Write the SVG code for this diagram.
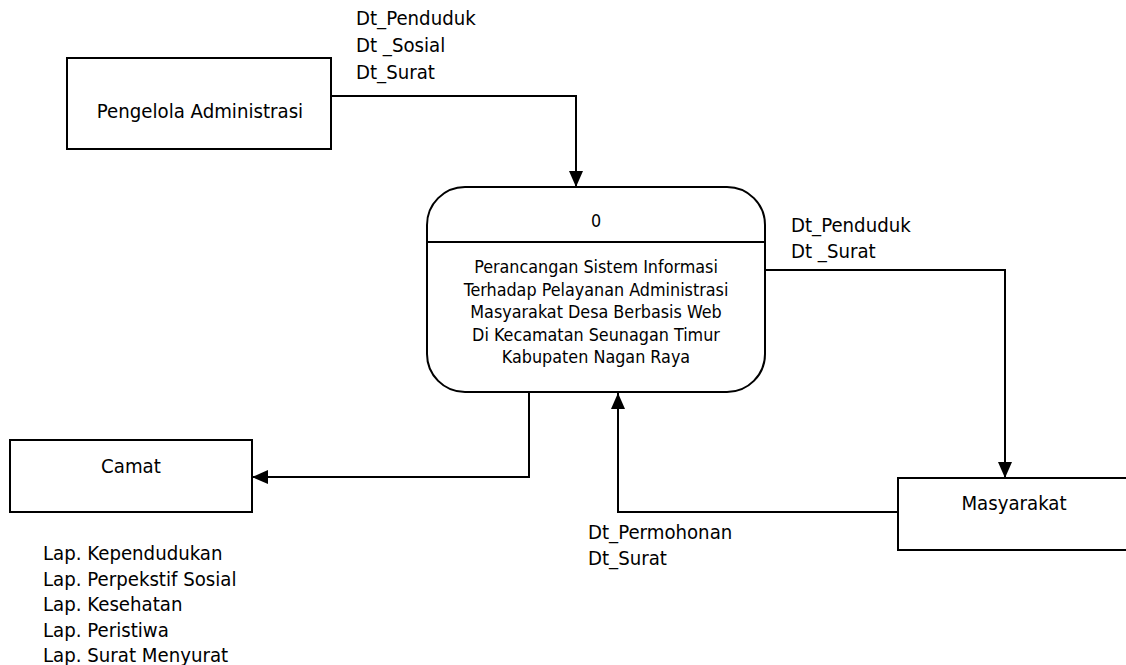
<svg xmlns="http://www.w3.org/2000/svg" width="1126" height="665" viewBox="0 0 1126 665">
<defs>
<style>
.box{fill:#fff;stroke:#000;stroke-width:2}
.ln{fill:none;stroke:#000;stroke-width:2;marker-end:url(#ah)}
.t{font-family:"DejaVu Sans Condensed","DejaVu Sans","Liberation Sans",sans-serif;font-size:20.2px;fill:#000}
.p{font-family:"DejaVu Sans Condensed","DejaVu Sans","Liberation Sans",sans-serif;font-size:17.8px;fill:#000;text-anchor:middle}
.c{text-anchor:middle}
</style>
<marker id="ah" markerUnits="userSpaceOnUse" markerWidth="18" markerHeight="18" viewBox="0 0 18 18" refX="17" refY="9" orient="auto">
<path d="M1,2 L17,9 L1,16 Z" fill="#000"/>
</marker>
</defs>
<rect width="1126" height="665" fill="#fff"/>
<g id="connectors">
<path class="ln" d="M331,96 H576 V187"/>
<path class="ln" d="M765,270 H1005 V478"/>
<path class="ln" d="M898,512 H618 V393"/>
<path class="ln" d="M529,392 V477 H252"/>
</g>
<g id="labels">
<text class="t" x="356" y="25">Dt_Penduduk</text>
<text class="t" x="356" y="52">Dt _Sosial</text>
<text class="t" x="356" y="79">Dt_Surat</text>
<text class="t" x="791" y="232">Dt_Penduduk</text>
<text class="t" x="791" y="258">Dt _Surat</text>
<text class="t" x="588" y="539">Dt_Permohonan</text>
<text class="t" x="588" y="565">Dt_Surat</text>
<text class="t" x="43" y="560">Lap. Kependudukan</text>
<text class="t" x="43" y="585.5">Lap. Perpekstif Sosial</text>
<text class="t" x="43" y="611">Lap. Kesehatan</text>
<text class="t" x="43" y="636.5">Lap. Peristiwa</text>
<text class="t" x="43" y="662">Lap. Surat Menyurat</text>
</g>
<g id="pengelola">
<rect class="box" x="67" y="58" width="264" height="91"/>
<text class="t c" x="200" y="118">Pengelola Administrasi</text>
</g>
<g id="process0">
<rect class="box" x="427" y="187" width="338" height="205" rx="38" ry="38"/>
<line x1="427" y1="242" x2="765" y2="242" stroke="#000" stroke-width="2"/>
<text class="p" x="596" y="227">0</text>
<text class="p" x="596" y="273">Perancangan Sistem Informasi</text>
<text class="p" x="596" y="295.5">Terhadap Pelayanan Administrasi</text>
<text class="p" x="596" y="318">Masyarakat Desa Berbasis Web</text>
<text class="p" x="596" y="340.5">Di Kecamatan Seunagan Timur</text>
<text class="p" x="596" y="363">Kabupaten Nagan Raya</text>
</g>
<g id="camat">
<rect class="box" x="10" y="440" width="242" height="72"/>
<text class="t c" x="131" y="473">Camat</text>
</g>
<g id="masyarakat">
<rect class="box" x="898" y="478" width="234" height="72"/>
<text class="t c" x="1014" y="510">Masyarakat</text>
</g>
</svg>
